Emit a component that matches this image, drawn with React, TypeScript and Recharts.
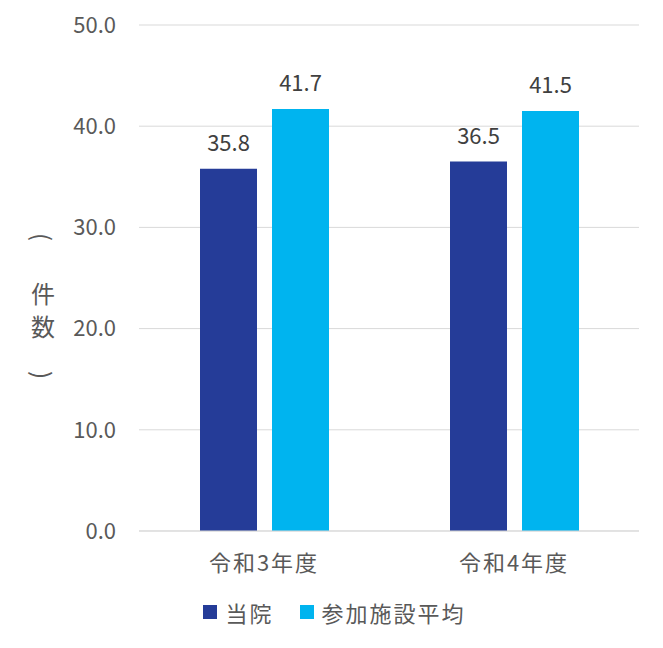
import React from "react";
import { BarChart, Bar, XAxis, YAxis, CartesianGrid, Legend, LabelList } from "recharts";

const categories = ["令和3年度", "令和4年度"];
const hospitalValues = [35.8, 36.5];
const averageValues = [41.7, 41.5];
const seriesNames = ["当院", "参加施設平均"];
const seriesColors = ["#253C98", "#00B4EF"];
const yTicks = [0, 10, 20, 30, 40, 50];
const boundaryTicks = [0, 1, 2];

const data = categories.map((c, i) => ({
  name: c,
  hospital: hospitalValues[i],
  average: averageValues[i],
}));

const FONT = '"Noto Sans CJK JP", "Noto Sans", sans-serif';
const TEXT = "#595959";

const XTick = (props: any) => {
  const { x, y, payload } = props;
  return (
    <text x={x} y={y + 40} textAnchor="middle" fill={TEXT} fontSize={22} fontFamily={FONT} letterSpacing={2}>
      {payload.value}
    </text>
  );
};

const YTitle = () => {
  const x = 43;
  return (
    <svg width={90} height={648} style={{ position: "absolute", left: 0, top: 0, pointerEvents: "none" }}>
      <g fill={TEXT} fontFamily='"Noto Sans CJK JP", sans-serif' fontSize={24}>
        <text x={x} y={237} textAnchor="middle" dominantBaseline="central" transform={`rotate(90, ${x}, 237)`}>(</text>
        <text x={x} y={292} textAnchor="middle" dominantBaseline="central">件</text>
        <text x={x} y={325} textAnchor="middle" dominantBaseline="central">数</text>
        <text x={x} y={375} textAnchor="middle" dominantBaseline="central" transform={`rotate(90, ${x}, 375)`}>)</text>
      </g>
    </svg>
  );
};

const LegendContent = () => (
  <div style={{ display: "flex", justifyContent: "center", alignItems: "center", fontFamily: FONT, fontSize: 22, color: TEXT, letterSpacing: 2, paddingLeft: 6 }}>
    {seriesNames.map((n, i) => (
      <div key={n} style={{ display: "flex", alignItems: "center", marginLeft: i === 0 ? 0 : 26 }}>
        <div style={{ width: 14, height: 14, background: seriesColors[i], marginRight: 8 }} />
        <span>{n}</span>
      </div>
    ))}
  </div>
);

export default function App() {
  return (
    <div style={{ position: "absolute", left: 0, top: 0, width: 663, height: 648, background: "#fff" }}>
      <BarChart
        width={663}
        height={648}
        data={data}
        margin={{ top: 25, right: 24, left: 0, bottom: 0 }}
        barSize={57}
        barGap={15}
      >
        <CartesianGrid vertical={false} stroke="#d9d9d9" />
        <XAxis
          xAxisId="b"
          type="number"
          domain={[0, 2]}
          ticks={boundaryTicks}
          orientation="bottom"
          mirror
          height={0}
          axisLine={false}
          tick={false}
          tickSize={8}
          tickLine={{ stroke: "#d9d9d9" }}
        />
        <XAxis
          dataKey="name"
          height={61}
          axisLine={{ stroke: "#d9d9d9" }}
          tickLine={false}
          tickSize={0}
          tickMargin={0}
          tick={<XTick />}
        />
        <YAxis
          width={139}
          domain={[0, 50]}
          ticks={yTicks}
          axisLine={false}
          tickLine={false}
          tickSize={0}
          tickMargin={23}
          tickFormatter={(v: number) => v.toFixed(1)}
          tick={{ fill: TEXT, fontSize: 22, fontFamily: FONT }}
        />
        <Legend verticalAlign="bottom" height={56} content={<LegendContent />} wrapperStyle={{ top: 596, left: 0, width: 663 }} />
        <Bar dataKey="hospital" name={seriesNames[0]} fill={seriesColors[0]} isAnimationActive={false}>
          <LabelList dataKey="hospital" position="top" offset={18} fill="#404040" fontSize={22} fontFamily={FONT} formatter={(v: any) => Number(v).toFixed(1)} />
        </Bar>
        <Bar dataKey="average" name={seriesNames[1]} fill={seriesColors[1]} isAnimationActive={false}>
          <LabelList dataKey="average" position="top" offset={18} fill="#404040" fontSize={22} fontFamily={FONT} formatter={(v: any) => Number(v).toFixed(1)} />
        </Bar>
      </BarChart>
      <YTitle />
    </div>
  );
}
